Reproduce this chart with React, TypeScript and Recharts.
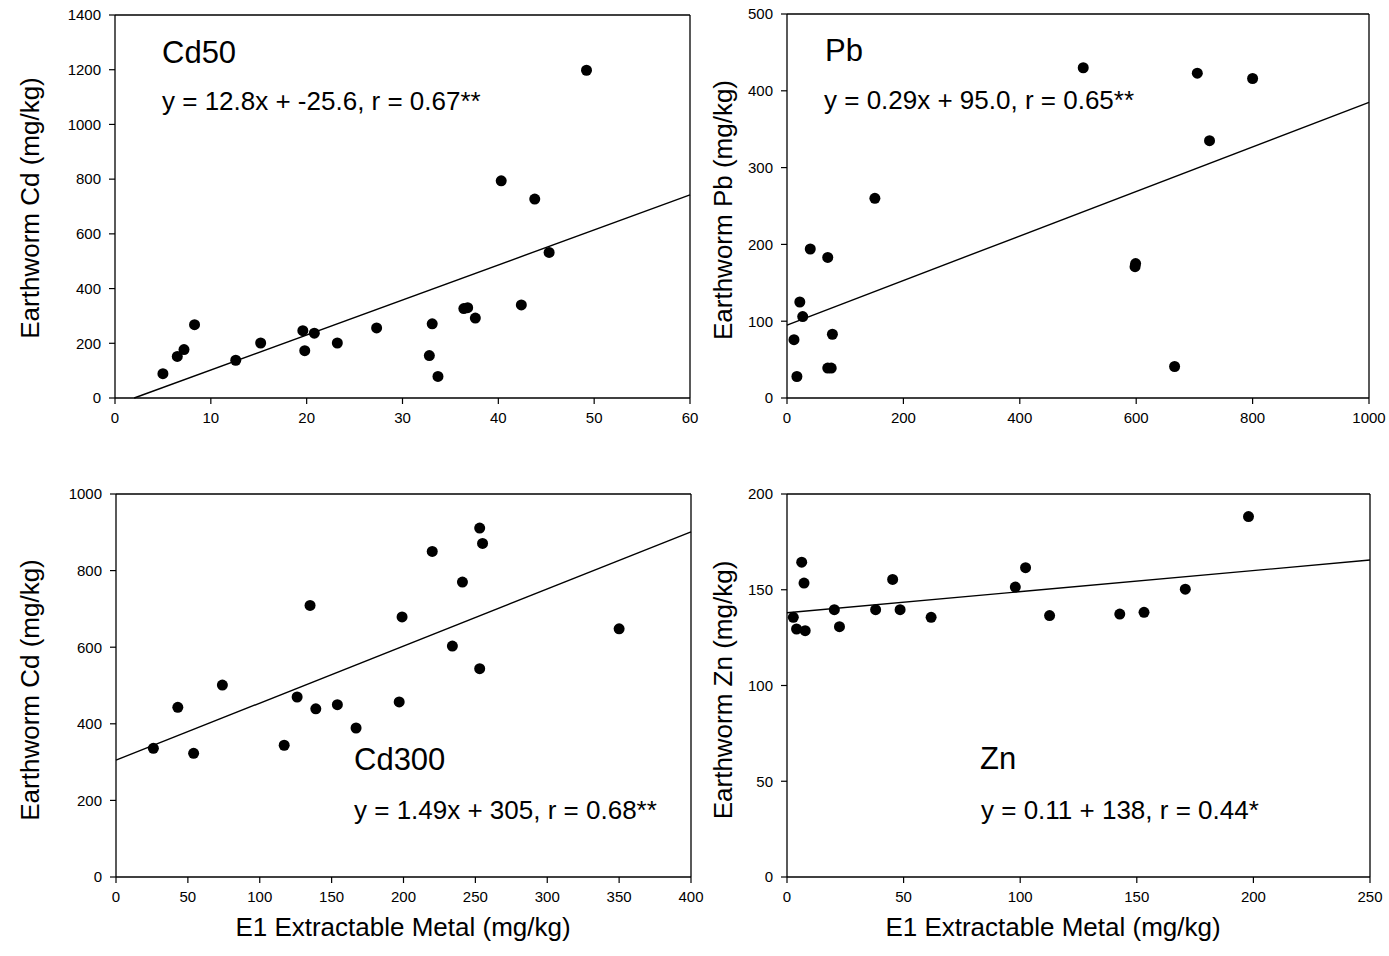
import React from "react";
import { ScatterChart, Scatter, XAxis, YAxis, ReferenceLine } from "recharts";

// Cd50 panel (top left)
const cd50X = [5.0, 6.5, 7.2, 8.3, 12.6, 15.2, 19.6, 19.8, 20.8, 23.2, 27.3, 32.8, 33.1, 33.7, 36.4, 36.8, 37.6, 40.3, 42.4, 43.8, 45.3, 49.2];
const cd50Y = [89, 152, 177, 268, 138, 201, 246, 173, 237, 201, 256, 155, 271, 79, 327, 330, 292, 794, 340, 727, 532, 1198];

// Pb panel (top right)
const pbX = [12, 17, 22, 27, 40, 70, 70, 76, 78, 151, 509, 598, 599, 666, 705, 726, 800];
const pbY = [76, 28, 125, 106, 194, 183, 39, 39, 83, 260, 430, 171, 175, 41, 423, 335, 416];

// Cd300 panel (bottom left)
const cd300X = [26, 43, 54, 74, 117, 126, 135, 139, 154, 167, 197, 199, 220, 234, 241, 253, 253, 255, 350];
const cd300Y = [336, 443, 323, 501, 344, 470, 709, 439, 450, 389, 457, 679, 850, 603, 770, 911, 544, 871, 648];

// Zn panel (bottom right)
const znX = [2.7, 4.1, 6.3, 7.3, 7.8, 20.3, 22.5, 38.0, 45.3, 48.5, 61.8, 97.9, 102.3, 112.6, 142.7, 153.1, 170.8, 197.9];
const znY = [135.6, 129.5, 164.4, 153.5, 128.6, 139.6, 130.7, 139.6, 155.4, 139.6, 135.6, 151.4, 161.5, 136.5, 137.3, 138.2, 150.3, 188.2];

const cd50XTicks = [0, 10, 20, 30, 40, 50, 60];
const cd50YTicks = [0, 200, 400, 600, 800, 1000, 1200, 1400];
const pbXTicks = [0, 200, 400, 600, 800, 1000];
const pbYTicks = [0, 100, 200, 300, 400, 500];
const cd300XTicks = [0, 50, 100, 150, 200, 250, 300, 350, 400];
const cd300YTicks = [0, 200, 400, 600, 800, 1000];
const znXTicks = [0, 50, 100, 150, 200, 250];
const znYTicks = [0, 50, 100, 150, 200];

// regression lines as printed on the panels
const slopes = [12.8, 0.29, 1.49, 0.11];
const intercepts = [-25.6, 95.0, 305, 138];

const panelNames = ["Cd50", "Pb", "Cd300", "Zn"];
const equations = [
  "y = 12.8x + -25.6, r = 0.67**",
  "y = 0.29x + 95.0, r = 0.65**",
  "y = 1.49x + 305, r = 0.68**",
  "y = 0.11 + 138, r = 0.44*",
];
const yTitles = ["Earthworm Cd (mg/kg)", "Earthworm Pb (mg/kg)", "Earthworm Cd (mg/kg)", "Earthworm Zn (mg/kg)"];
const xTitle = "E1 Extractable Metal (mg/kg)";

const FONT = "'Liberation Sans', Arial, sans-serif";

interface PanelProps {
  xs: number[];
  ys: number[];
  xTicks: number[];
  yTicks: number[];
  slope: number;
  intercept: number;
  left: number;
  top: number;
  width: number;
  height: number;
  yAxisWidth: number;
  marginTop: number;
  marginRight: number;
}

const Dot = (props: any) => <circle cx={props.cx} cy={props.cy} r={5.5} fill="#000" />;

const Panel: React.FC<PanelProps> = ({ xs, ys, xTicks, yTicks, slope, intercept, left, top, width, height, yAxisWidth, marginTop, marginRight }) => {
  const data = xs.map((x, i) => ({ x, y: ys[i] }));
  const xMin = xTicks[0];
  const xMax = xTicks[xTicks.length - 1];
  const yMin = yTicks[0];
  const yMax = yTicks[yTicks.length - 1];
  // the fitted line starts where it enters the plot (Cd50 crosses y = 0 at x = 2)
  const x0 = Math.max(xMin, (yMin - intercept) / slope);
  const seg = [
    { x: x0, y: slope * x0 + intercept },
    { x: xMax, y: slope * xMax + intercept },
  ];
  const axisProps = {
    stroke: "#000",
    strokeWidth: 1.3,
    tick: { fill: "#000", fontSize: 15, fontFamily: FONT },
    tickLine: { stroke: "#000", strokeWidth: 1.2 },
    tickSize: 6,
    interval: 0 as const,
  };
  return (
    <div style={{ position: "absolute", left, top }}>
      <ScatterChart width={width} height={height} margin={{ top: marginTop, right: marginRight, left: 0, bottom: 0 }}>
        <XAxis type="number" dataKey="x" domain={[xMin, xMax]} ticks={xTicks} height={32} tickMargin={8} {...axisProps} />
        <YAxis type="number" dataKey="y" domain={[yMin, yMax]} ticks={yTicks} width={yAxisWidth} tickMargin={8} {...axisProps} />
        <ReferenceLine y={yMax} stroke="#000" strokeWidth={1.3} />
        <ReferenceLine x={xMax} stroke="#000" strokeWidth={1.3} />
        <ReferenceLine segment={seg} stroke="#000" strokeWidth={1.4} />
        <Scatter data={data} shape={Dot} isAnimationActive={false} />
      </ScatterChart>
    </div>
  );
};

export default function App() {
  const txt = { fontFamily: FONT, fill: "#000" };
  return (
    <div style={{ position: "absolute", left: 0, top: 0, width: 1389, height: 956, background: "#fff" }}>
      <Panel xs={cd50X} ys={cd50Y} xTicks={cd50XTicks} yTicks={cd50YTicks} slope={slopes[0]} intercept={intercepts[0]}
        left={0} top={0} width={715} height={430} yAxisWidth={115} marginTop={15} marginRight={25} />
      <Panel xs={pbX} ys={pbY} xTicks={pbXTicks} yTicks={pbYTicks} slope={slopes[1]} intercept={intercepts[1]}
        left={700} top={0} width={689} height={430} yAxisWidth={87} marginTop={14} marginRight={20} />
      <Panel xs={cd300X} ys={cd300Y} xTicks={cd300XTicks} yTicks={cd300YTicks} slope={slopes[2]} intercept={intercepts[2]}
        left={0} top={464} width={715} height={445} yAxisWidth={116} marginTop={30} marginRight={24} />
      <Panel xs={znX} ys={znY} xTicks={znXTicks} yTicks={znYTicks} slope={slopes[3]} intercept={intercepts[3]}
        left={700} top={464} width={689} height={445} yAxisWidth={87} marginTop={30} marginRight={19} />

      <svg width={1389} height={956} style={{ position: "absolute", left: 0, top: 0, pointerEvents: "none" }}>
        <text x={162} y={63} fontSize={31} {...txt}>{panelNames[0]}</text>
        <text x={162} y={110} fontSize={26} {...txt}>{equations[0]}</text>
        <text x={825} y={61} fontSize={31} {...txt}>{panelNames[1]}</text>
        <text x={824} y={109} fontSize={26} {...txt}>{equations[1]}</text>
        <text x={354} y={770} fontSize={31} {...txt}>{panelNames[2]}</text>
        <text x={354} y={819} fontSize={26} {...txt}>{equations[2]}</text>
        <text x={980} y={769} fontSize={31} {...txt}>{panelNames[3]}</text>
        <text x={981} y={819} fontSize={26} {...txt}>{equations[3]}</text>

        <text transform="translate(39,208) rotate(-90)" textAnchor="middle" fontSize={26} {...txt}>{yTitles[0]}</text>
        <text transform="translate(732,210) rotate(-90)" textAnchor="middle" fontSize={26} {...txt}>{yTitles[1]}</text>
        <text transform="translate(39,690) rotate(-90)" textAnchor="middle" fontSize={26} {...txt}>{yTitles[2]}</text>
        <text transform="translate(732,690) rotate(-90)" textAnchor="middle" fontSize={26} {...txt}>{yTitles[3]}</text>

        <text x={403} y={936} textAnchor="middle" fontSize={26} {...txt}>{xTitle}</text>
        <text x={1053} y={936} textAnchor="middle" fontSize={26} {...txt}>{xTitle}</text>
      </svg>
    </div>
  );
}
